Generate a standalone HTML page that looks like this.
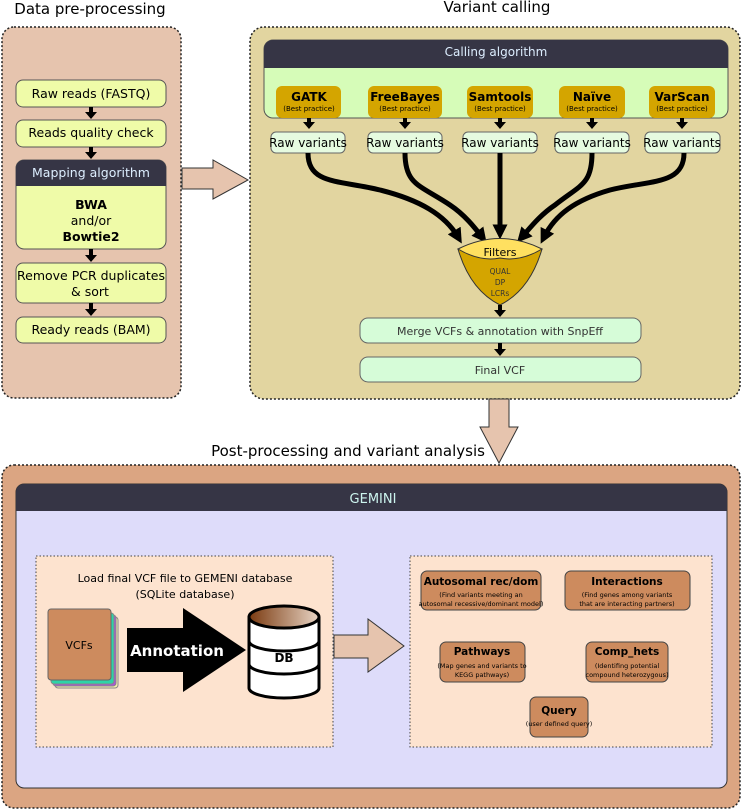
<!DOCTYPE html>
<html><head><meta charset="utf-8"><style>
html,body{margin:0;padding:0;background:#fff}
svg{display:block}
text{font-family:"DejaVu Sans","Liberation Sans",sans-serif}
</style></head><body>
<svg width="744" height="811" viewBox="0 0 744 811" xmlns="http://www.w3.org/2000/svg">
<defs>
<marker id="ah" markerWidth="3" markerHeight="3" refX="1.5" refY="1.5" orient="auto" markerUnits="strokeWidth"><path d="M0,0 L3,1.5 L0,3 Z" fill="#000"/></marker>
<linearGradient id="dbg" x1="0" x2="1"><stop offset="0" stop-color="#7a3a10"/><stop offset="1" stop-color="#e8d4c4"/></linearGradient>
</defs>

<text x="90" y="14" font-size="15" text-anchor="middle">Data pre-processing</text>
<text x="497" y="12" font-size="15" text-anchor="middle">Variant calling</text>
<text x="348" y="456" font-size="15" text-anchor="middle">Post-processing and variant analysis</text>

<rect x="2" y="27" width="179" height="371" rx="12" fill="#e6c4ae" stroke="#222" stroke-width="1.5" stroke-dasharray="2,2"/>
<g font-size="12.5" text-anchor="middle">
<rect x="16" y="80" width="150" height="27" rx="7" fill="#effba8" stroke="#555"/>
<text x="91" y="98">Raw reads (FASTQ)</text>
<rect x="16" y="120" width="150" height="27" rx="7" fill="#effba8" stroke="#555"/>
<text x="91" y="137">Reads quality check</text>
<rect x="16" y="160" width="150" height="89" rx="8" fill="#effba8" stroke="#555"/>
<path d="M16,186 V168 a8,8 0 0 1 8,-8 H158 a8,8 0 0 1 8,8 V186 Z" fill="#363545"/>
<text x="91" y="177" fill="#ddeeff">Mapping algorithm</text>
<text x="91" y="209" font-weight="bold">BWA</text>
<text x="91" y="225">and/or</text>
<text x="91" y="241" font-weight="bold">Bowtie2</text>
<rect x="16" y="263" width="150" height="40" rx="7" fill="#effba8" stroke="#555"/>
<text x="91" y="280">Remove PCR duplicates</text>
<text x="90" y="296">&amp; sort</text>
<rect x="16" y="317" width="150" height="26" rx="7" fill="#effba8" stroke="#555"/>
<text x="91" y="334">Ready reads (BAM)</text>
</g>
<g fill="#000">
<path d="M89,107 h4 v5 h4 l-6,7 l-6,-7 h4 z"/>
<path d="M89,147 h4 v5 h4 l-6,7 l-6,-7 h4 z"/>
<path d="M89,249 h4 v6 h4 l-6,7 l-6,-7 h4 z"/>
<path d="M89,303 h4 v6 h4 l-6,7 l-6,-7 h4 z"/>
</g>
<path d="M182,168 H213 V160 L248,180 L213,199 V189 H182 Z" fill="#e6c4ae" stroke="#333"/>

<rect x="250" y="27" width="490" height="372" rx="14" fill="#e2d5a0" stroke="#222" stroke-width="1.5" stroke-dasharray="2,2"/>
<rect x="264" y="40" width="464" height="78" rx="9" fill="#d6fcb8" stroke="#555"/>
<path d="M264,68 V49 a9,9 0 0 1 9,-9 H719 a9,9 0 0 1 9,9 V68 Z" fill="#363545"/>
<text x="496" y="56" font-size="12" fill="#ddeeff" text-anchor="middle">Calling algorithm</text>
<g text-anchor="middle">
<rect x="276" y="86" width="65" height="32" rx="6" fill="#d4a500"/>
<text x="309" y="101" font-size="12" font-weight="bold">GATK</text><text x="309" y="111" font-size="7">(Best practice)</text>
<rect x="368" y="86" width="74" height="32" rx="6" fill="#d4a500"/>
<text x="405" y="101" font-size="12" font-weight="bold">FreeBayes</text><text x="405" y="111" font-size="7">(Best practice)</text>
<rect x="467" y="86" width="66" height="32" rx="6" fill="#d4a500"/>
<text x="500" y="101" font-size="12" font-weight="bold">Samtools</text><text x="500" y="111" font-size="7">(Best practice)</text>
<rect x="559" y="86" width="66" height="32" rx="6" fill="#d4a500"/>
<text x="592" y="101" font-size="12" font-weight="bold">Naïve</text><text x="592" y="111" font-size="7">(Best practice)</text>
<rect x="649" y="86" width="66" height="32" rx="6" fill="#d4a500"/>
<text x="682" y="101" font-size="12" font-weight="bold">VarScan</text><text x="682" y="111" font-size="7">(Best practice)</text>
<g font-size="12">
<rect x="271" y="132" width="74" height="21" rx="5" fill="#e6fbe0" stroke="#666"/><text x="308" y="147">Raw variants</text>
<rect x="368" y="132" width="74" height="21" rx="5" fill="#e6fbe0" stroke="#666"/><text x="405" y="147">Raw variants</text>
<rect x="463" y="132" width="74" height="21" rx="5" fill="#e6fbe0" stroke="#666"/><text x="500" y="147">Raw variants</text>
<rect x="555" y="132" width="74" height="21" rx="5" fill="#e6fbe0" stroke="#666"/><text x="592" y="147">Raw variants</text>
<rect x="645" y="132" width="75" height="21" rx="5" fill="#e6fbe0" stroke="#666"/><text x="682" y="147">Raw variants</text>
</g>
</g>
<g fill="#000">
<path d="M307,118 h4 v4 h4 l-6,7 l-6,-7 h4 z"/>
<path d="M403,118 h4 v4 h4 l-6,7 l-6,-7 h4 z"/>
<path d="M498,118 h4 v4 h4 l-6,7 l-6,-7 h4 z"/>
<path d="M590,118 h4 v4 h4 l-6,7 l-6,-7 h4 z"/>
<path d="M680,118 h4 v4 h4 l-6,7 l-6,-7 h4 z"/>
</g>
<g fill="none" stroke="#000" stroke-width="5">
<path d="M308,153 C308,185 340,180 380,190 C420,200 445,215 458,237" marker-end="url(#ah)"/>
<path d="M405,153 C405,185 420,185 450,205 C465,215 475,228 482,237" marker-end="url(#ah)"/>
<path d="M500,153 V232" marker-end="url(#ah)"/>
<path d="M592,153 C592,185 580,185 555,205 C540,215 530,228 522,237" marker-end="url(#ah)"/>
<path d="M684,153 C684,185 650,180 610,190 C575,200 555,215 544,237" marker-end="url(#ah)"/>
</g>
<path d="M458,249 Q470,290 500,305 Q530,290 542,249 Z" fill="#d4a500" stroke="#333"/>
<path d="M458,249 Q500,228 542,249 Q520,262 500,258 Q480,262 458,249 Z" fill="#ffe060" stroke="#333"/>
<text x="500" y="256" font-size="11" text-anchor="middle">Filters</text>
<g font-size="7.5" text-anchor="middle" fill="#333"><text x="500" y="274">QUAL</text><text x="500" y="285">DP</text><text x="500" y="296">LCRs</text></g>
<path d="M498,305 h4 v5 h4 l-6,7 l-6,-7 h4 z"/>
<rect x="360" y="318" width="281" height="25" rx="8" fill="#d6fcd8" stroke="#666"/>
<text x="500" y="335" font-size="11" text-anchor="middle" fill="#333">Merge VCFs &amp; annotation with SnpEff</text>
<path d="M498,343 h4 v6 h4 l-6,7 l-6,-7 h4 z"/>
<rect x="360" y="357" width="281" height="25" rx="8" fill="#d6fcd8" stroke="#666"/>
<text x="500" y="374" font-size="11" text-anchor="middle" fill="#333">Final VCF</text>
<path d="M489,399 V427 H480 L499,463 L518,427 H509 V399 Z" fill="#e6c4ae" stroke="#333"/>

<rect x="2" y="465" width="738" height="343" rx="12" fill="#dba582" stroke="#222" stroke-width="1.5" stroke-dasharray="2,2"/>
<rect x="16" y="484" width="711" height="304" rx="8" fill="#dedcfa" stroke="#333"/>
<path d="M16,511 V492 a8,8 0 0 1 8,-8 H719 a8,8 0 0 1 8,8 V511 Z" fill="#363545"/>
<text x="373" y="503" font-size="13" fill="#ccf4ee" text-anchor="middle">GEMINI</text>
<rect x="36" y="556" width="297" height="191" fill="#fde3cf" stroke="#444" stroke-dasharray="1.5,2"/>
<rect x="410" y="556" width="302" height="191" fill="#fde3cf" stroke="#444" stroke-dasharray="1.5,2"/>
<text x="185" y="582" font-size="11" text-anchor="middle">Load final VCF file to GEMENI database</text>
<text x="185" y="598" font-size="11" text-anchor="middle">(SQLite database)</text>
<rect x="55" y="617" width="63" height="71" rx="3" fill="#f7efb0" stroke="#888"/>
<rect x="53" y="615" width="63" height="71" rx="3" fill="#a855d8" stroke="#888"/>
<rect x="51" y="613" width="63" height="71" rx="3" fill="#2dd4a8" stroke="#888"/>
<rect x="48" y="609" width="63" height="71" rx="3" fill="#cd8b5e" stroke="#666"/>
<text x="79" y="649" font-size="11" text-anchor="middle">VCFs</text>
<path d="M127,628 H183 V608 L246,650 L183,692 V672 H127 Z" fill="#000"/>
<text x="177" y="656" font-size="15" font-weight="bold" fill="#fff" text-anchor="middle">Annotation</text>
<path d="M249,617 V688 A35,10 0 0 0 319,688 V617" fill="#fff" stroke="#000" stroke-width="3"/>
<path d="M249,641 A35,10 0 0 0 319,641 M249,664 A35,10 0 0 0 319,664" fill="none" stroke="#000" stroke-width="3"/>
<ellipse cx="284" cy="617" rx="35" ry="11" fill="url(#dbg)" stroke="#000" stroke-width="3"/>
<text x="284" y="662" font-size="12" font-weight="bold" text-anchor="middle">DB</text>
<path d="M334,635 H368 V619 L404,646 L368,672 V658 H334 Z" fill="#e6c4ae" stroke="#333"/>
<g text-anchor="middle">
<rect x="421" y="571" width="120" height="39" rx="6" fill="#cd8b5e" stroke="#444"/>
<text x="481" y="585" font-size="10.5" font-weight="bold">Autosomal rec/dom</text>
<text x="481" y="597" font-size="6.5">(Find variants meeting an</text><text x="481" y="606" font-size="6.5">autosomal recessive/dominant model)</text>
<rect x="565" y="571" width="125" height="39" rx="6" fill="#cd8b5e" stroke="#444"/>
<text x="627" y="585" font-size="10.5" font-weight="bold">Interactions</text>
<text x="627" y="597" font-size="6.5">(Find genes among variants</text><text x="627" y="606" font-size="6.5">that are interacting partners)</text>
<rect x="440" y="642" width="85" height="40" rx="6" fill="#cd8b5e" stroke="#444"/>
<text x="482" y="655" font-size="10.5" font-weight="bold">Pathways</text>
<text x="482" y="668" font-size="6.5">(Map genes and variants to</text><text x="482" y="677" font-size="6.5">KEGG pathways)</text>
<rect x="586" y="642" width="82" height="40" rx="6" fill="#cd8b5e" stroke="#444"/>
<text x="627" y="655" font-size="10.5" font-weight="bold">Comp_hets</text>
<text x="627" y="668" font-size="6.5">(Identifing potential</text><text x="627" y="677" font-size="6.5">compound heterozygous)</text>
<rect x="530" y="697" width="58" height="40" rx="6" fill="#cd8b5e" stroke="#444"/>
<text x="559" y="714" font-size="10.5" font-weight="bold">Query</text>
<text x="559" y="726" font-size="6.5">(user defined query)</text>
</g>
</svg>
</body></html>
